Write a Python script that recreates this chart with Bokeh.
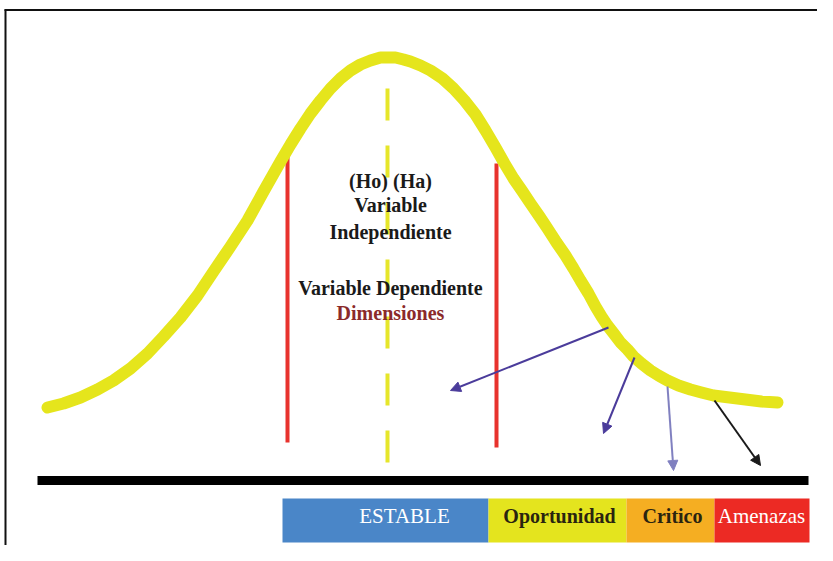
from bokeh.plotting import figure
from bokeh.models import Range1d, Arrow, NormalHead
from bokeh.core.properties import value
from bokeh.embed import file_html
from bokeh.resources import INLINE

# Bell curve (x, y in picture units, y grows downward)
curve_x = [47, 63, 80, 97, 113, 130, 147, 163, 180, 197, 213, 230, 247, 263, 280,
           290, 300, 310, 320, 330, 340, 350, 360, 370, 380, 387, 395, 403, 410, 420,
           430, 442, 453, 464, 475, 485, 495, 504, 513, 522, 530, 539, 547, 556, 565,
           573, 580, 588, 595, 601, 607, 614, 620, 627, 633, 641, 650, 658, 667, 678,
           690, 701, 713, 729, 745, 761, 777]
curve_y = [407, 403, 397, 389, 380, 368, 353, 336, 317, 295, 271, 246, 220, 191, 161,
           144, 128, 113, 100, 88, 78, 70, 64, 60, 57, 57, 57, 59, 61, 65,
           70, 78, 88, 100, 114, 130, 147, 163, 178, 191, 203, 216, 228, 242, 255,
           268, 280, 293, 306, 316, 325, 334, 342, 349, 356, 363, 370, 375, 380, 385,
           389, 392, 395, 397, 399, 401, 402]

# Critical limits (red) and mean (dashed)
limit_x = [287, 496]
limit_top = [155, 163]
limit_bottom = [442, 447]
mean_x = 387
mean_top = 88
mean_bottom = 472

# Base line
base_left, base_right, base_y = 37, 808, 480

# Zone bar
zones = ["ESTABLE", "Oportunidad", "Critico", "Amenazas"]
zone_left = [282, 488, 626, 714]
zone_right = [488, 626, 714, 809]
zone_text_x = [404, 559, 672, 761]
zone_colors = ["#4a86c8", "#e4e41e", "#f5ae22", "#ec2a24"]
zone_text_colors = ["#ffffff", "#2a2410", "#2a2410", "#ffffff"]
zone_bold = ["normal", "bold", "bold", "normal"]
zone_size = ["21px", "20px", "20px", "21px"]
bar_top, bar_bottom = 498, 542

# Central labels
center_lines = ["(Ho) (Ha)", "Variable", "Independiente", "Variable Dependiente", "Dimensiones"]
center_y = [180, 204, 231, 287, 312]
center_colors = ["#1a1a1a", "#1a1a1a", "#1a1a1a", "#1a1a1a", "#8b2a2a"]

# Arrows (from curve to zones)
arr_x0 = [608, 634, 667, 714]
arr_y0 = [327, 357, 386, 400]
arr_x1 = [450, 603, 673, 760]
arr_y1 = [390, 433, 470, 465]
arr_colors = ["#4b3c9b", "#4b3c9b", "#8080c0", "#1a1a1a"]

p = figure(width=817, height=545, x_range=Range1d(0, 817), y_range=Range1d(545, 0),
           output_backend="svg", toolbar_location=None, min_border=0,
           x_axis_location=None, y_axis_location=None)
p.grid.visible = False
p.outline_line_color = None
p.background_fill_color = "white"

# frame of the picture
p.segment(x0=[4], y0=[9.5], x1=[817], y1=[9.5], line_color="#111111", line_width=2)
p.segment(x0=[5], y0=[9], x1=[5], y1=[545], line_color="#111111", line_width=2)

# red limit lines
p.segment(x0=limit_x, y0=limit_top, x1=limit_x, y1=limit_bottom,
          line_color="#e8322d", line_width=4)

# dashed mean line
p.segment(x0=[mean_x], y0=[mean_top], x1=[mean_x], y1=[mean_bottom],
          line_color="#e6e62a", line_width=4, line_dash="32 25")

# bell curve
p.line(curve_x, curve_y, line_width=12, line_color="#e5e51c",
       line_cap="round", line_join="round")

# base line
p.segment(x0=[base_left], y0=[base_y], x1=[base_right], y1=[base_y],
          line_color="#000000", line_width=9)

# zone bar
p.quad(left=zone_left, right=zone_right, top=[bar_top] * 4, bottom=[bar_bottom] * 4,
       fill_color=zone_colors, line_color=None)
for zx, zt, zc, zb, zs in zip(zone_text_x, zones, zone_text_colors, zone_bold, zone_size):
    p.text(x=[zx], y=[(bar_top + bar_bottom) / 2 - 5], text=[zt], text_color=zc,
           text_font=value("Liberation Serif"), text_font_size=zs,
           text_font_style=zb, text_align="center", text_baseline="middle")

# central labels
p.text(x=[390] * len(center_lines), y=center_y, text=center_lines,
       text_color=center_colors, text_font=value("Liberation Serif"),
       text_font_size="20px", text_font_style="bold",
       text_align="center", text_baseline="middle")

# arrows
for x0, y0, x1, y1, c in zip(arr_x0, arr_y0, arr_x1, arr_y1, arr_colors):
    p.add_layout(Arrow(end=NormalHead(size=10, fill_color=c, line_color=c),
                       x_start=x0, y_start=y0, x_end=x1, y_end=y1,
                       line_color=c, line_width=2))

open("out.html", "w").write(file_html(p, INLINE))
